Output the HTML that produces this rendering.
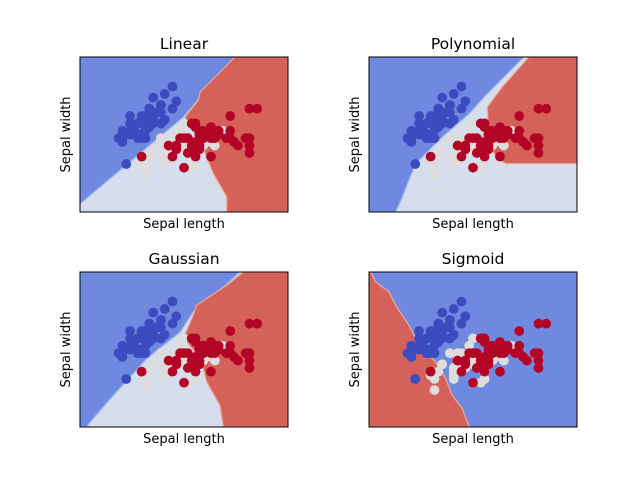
<!DOCTYPE html>
<html><head><meta charset="utf-8"><style>
body{margin:0;background:#fff;}
svg text{font-family:"DejaVu Sans","Liberation Sans",sans-serif;fill:#000;}
</style></head><body>
<svg id="fig" width="640" height="480" xmlns="http://www.w3.org/2000/svg"></svg>
<script>
const sepalLength=[5.1,4.9,4.7,4.6,5.0,5.4,4.6,5.0,4.4,4.9,5.4,4.8,4.8,4.3,5.8,5.7,5.4,5.1,5.7,5.1,5.4,5.1,4.6,5.1,4.8,5.0,5.0,5.2,5.2,4.7,4.8,5.4,5.2,5.5,4.9,5.0,5.5,4.9,4.4,5.1,5.0,4.5,4.4,5.0,5.1,4.8,5.1,4.6,5.3,5.0,
7.0,6.4,6.9,5.5,6.5,5.7,6.3,4.9,6.6,5.2,5.0,5.9,6.0,6.1,5.6,6.7,5.6,5.8,6.2,5.6,5.9,6.1,6.3,6.1,6.4,6.6,6.8,6.7,6.0,5.7,5.5,5.5,5.8,6.0,5.4,6.0,6.7,6.3,5.6,5.5,5.5,6.1,5.8,5.0,5.6,5.7,5.7,6.2,5.1,5.7,
6.3,5.8,7.1,6.3,6.5,7.6,4.9,7.3,6.7,7.2,6.5,6.4,6.8,5.7,5.8,6.4,6.5,7.7,7.7,6.0,6.9,5.6,7.7,6.3,6.7,7.2,6.2,6.1,6.4,7.2,7.4,7.9,6.4,6.3,6.1,7.7,6.3,6.4,6.0,6.9,6.7,6.9,5.8,6.8,6.7,6.7,6.3,6.5,6.2,5.9];
const sepalWidth=[3.5,3.0,3.2,3.1,3.6,3.9,3.4,3.4,2.9,3.1,3.7,3.4,3.0,3.0,4.0,4.4,3.9,3.5,3.8,3.8,3.4,3.7,3.6,3.3,3.4,3.0,3.4,3.5,3.4,3.2,3.1,3.4,4.1,4.2,3.1,3.2,3.5,3.6,3.0,3.4,3.5,2.3,3.2,3.5,3.8,3.0,3.8,3.2,3.7,3.3,
3.2,3.2,3.1,2.3,2.8,2.8,3.3,2.4,2.9,2.7,2.0,3.0,2.2,2.9,2.9,3.1,3.0,2.7,2.2,2.5,3.2,2.8,2.5,2.8,2.9,3.0,2.8,3.0,2.9,2.6,2.4,2.4,2.7,2.7,3.0,3.4,3.1,2.3,3.0,2.5,2.6,3.0,2.6,2.3,2.7,3.0,2.9,2.9,2.5,2.8,
3.3,2.7,3.0,2.9,3.0,3.0,2.5,2.9,2.5,3.6,3.2,2.7,3.0,2.5,2.8,3.2,3.0,3.8,2.6,2.2,3.2,2.8,2.8,2.7,3.3,3.2,2.8,3.0,2.8,3.0,2.8,3.8,2.8,2.8,2.6,3.0,3.4,3.1,3.0,3.1,3.1,3.1,2.7,3.2,3.3,3.0,2.5,3.0,3.4,3.0];
const species=[0,0,0,0,0,0,0,0,0,0,0,0,0,0,0,0,0,0,0,0,0,0,0,0,0,0,0,0,0,0,0,0,0,0,0,0,0,0,0,0,0,0,0,0,0,0,0,0,0,0,
1,1,1,1,1,1,1,1,1,1,1,1,1,1,1,1,1,1,1,1,1,1,1,1,1,1,1,1,1,1,1,1,1,1,1,1,1,1,1,1,1,1,1,1,1,1,1,1,1,1,
2,2,2,2,2,2,2,2,2,2,2,2,2,2,2,2,2,2,2,2,2,2,2,2,2,2,2,2,2,2,2,2,2,2,2,2,2,2,2,2,2,2,2,2,2,2,2,2,2,2];
const titles=["Linear","Polynomial","Gaussian","Sigmoid"];
const bgClass=[1,1,1,0];
const blueRegions=[
 [[3.3,5.2],[7.32,5.2],[5.98,3.57],[3.3,1.22]],
 [[3.3,5.2],[7.32,5.2],[6.33,4.16],[5.90,3.66],[5.20,3.03],[4.51,2.31],[4.30,1.77],[4.17,1.41],[3.99,1.0],[3.3,1.0]],
 [[3.3,5.2],[7.45,5.2],[7.02,4.79],[6.24,4.12],[5.90,3.57],[5.03,2.85],[4.17,1.86],[3.56,1.13],[3.47,1.0],[3.3,1.0]],
 []];
const redRegions=[
 [[7.32,5.2],[8.7,5.2],[8.7,1.0],[7.11,1.0],[7.11,1.41],[6.76,2.04],[6.55,2.58],[6.42,3.03],[6.07,3.35],[6.03,3.57],[6.37,4.03],[6.42,4.25]],
 [[7.45,5.2],[8.7,5.2],[8.7,2.31],[6.85,2.31],[6.59,2.49],[6.42,2.85],[6.37,3.84],[6.76,4.39]],
 [[7.54,5.2],[8.7,5.2],[8.7,1.0],[7.02,1.0],[6.93,1.59],[6.59,2.22],[6.50,2.58],[6.37,2.94],[6.07,3.30],[6.03,3.53],[6.24,4.03],[6.33,4.30],[7.11,4.84]],
 [[3.3,5.2],[3.35,5.2],[3.47,4.93],[3.82,4.66],[3.99,4.30],[4.34,3.75],[4.60,3.21],[5.03,2.76],[5.29,2.31],[5.46,1.86],[5.72,1.50],[5.90,1.0],[3.3,1.0]]];
const X0=3.3,X1=8.7,Y0=1.0,Y1=5.2;
const axesPos=[[80,57],[369,57],[80,272],[369,272]];
const W=208,H=155;
const bgCols=["rgb(112,137,224)","rgb(214,222,238)","rgb(213,98,90)"];
const ptCols=["#3b4cc0","#dddddd","#b40426"];
const NS="http://www.w3.org/2000/svg";
const svg=document.getElementById('fig');
function mk(tag,attrs,parent){const e=document.createElementNS(NS,tag);for(const k in attrs)e.setAttribute(k,attrs[k]);(parent||svg).appendChild(e);return e;}
titles.forEach((t,i)=>{
 const [ax,ay]=axesPos[i];
 const sx=v=>ax+(v-X0)/(X1-X0)*W, sy=v=>ay+(Y1-v)/(Y1-Y0)*H;
 const g=mk('g',{});
 
 
 const cp=mk('clipPath',{id:'c'+i},g);mk('rect',{x:ax,y:ay,width:W,height:H},cp);
 const bg=mk('rect',{x:ax,y:ay,width:W,height:H,fill:bgCols[bgClass[i]]},g);
 
 
 [[blueRegions[i],0],[redRegions[i],2]].forEach(([poly,c])=>{
  if(!poly.length)return;
  const p=mk('polygon',{points:poly.map(q=>sx(q[0])+','+sy(q[1])).join(' '),fill:bgCols[c],'clip-path':'url(#c'+i+')',stroke:c==0?'#9fb6f0':'#eeaa90','stroke-width':1.2},g);
  
  
 });
 for(let k=0;k<sepalLength.length;k++){
  const c=mk('circle',{cx:sx(sepalLength[k]),cy:sy(sepalWidth[k]),r:4.9,fill:ptCols[species[k]],'clip-path':'url(#c'+i+')'},g);
  
  
 }
 const fr=mk('rect',{x:ax,y:ay,width:W,height:H,fill:'none',stroke:'#000','stroke-width':1},g);
 
 
 const tt=mk('text',{x:ax+W/2,y:ay-8,'text-anchor':'middle','font-size':15.5},g);tt.textContent=t;
 
 
 const xl=mk('text',{x:ax+W/2,y:ay+H+16,'text-anchor':'middle','font-size':13},g);xl.textContent="Sepal length";
 
 
 const yl=mk('text',{x:0,y:0,'text-anchor':'middle','font-size':13,transform:'translate('+(ax-10)+','+(ay+H/2)+') rotate(-90)'},g);yl.textContent="Sepal width";
 
 
});
</script>
</body></html>
